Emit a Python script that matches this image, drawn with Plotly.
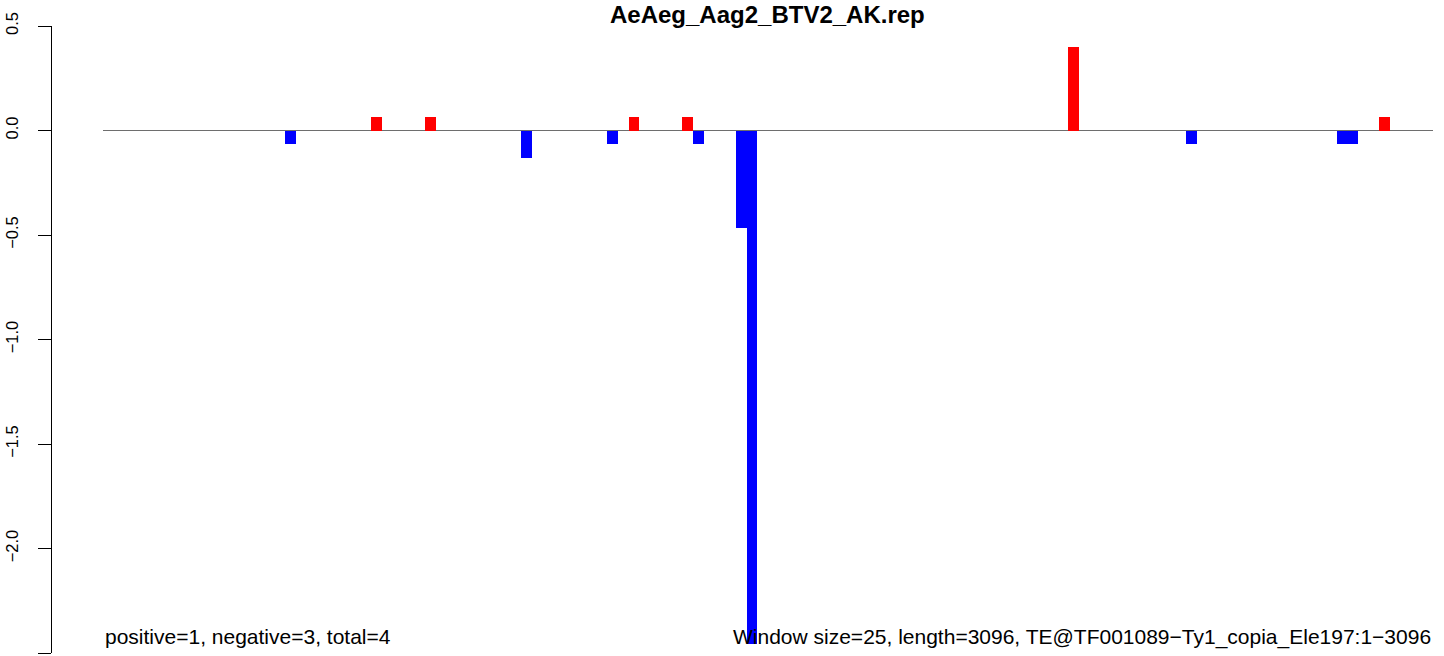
import plotly.graph_objects as go

# window index (25 bp windows) and normalised counts
windows = [17, 25, 30, 39, 47, 49, 54, 55, 59, 60, 90, 101, 115, 116, 119]
values = [-0.0667, 0.0667, 0.0667, -0.1333, -0.0667, 0.0667, 0.0667, -0.0667,
          -0.4667, -2.455, 0.4, -0.0667, -0.0667, -0.0667, 0.0667]
n_windows = 124

title = "AeAeg_Aag2_BTV2_AK.rep"
left_note = "positive=1, negative=3, total=4"
right_note = "Window size=25, length=3096, TE@TF001089\u2212Ty1_copia_Ele197:1\u22123096"

colors = ["#ff0000" if v > 0 else "#0000ff" for v in values]

fig = go.Figure()
fig.add_trace(go.Bar(x=[w + 0.5 for w in windows], y=values, width=1,
                     marker=dict(color=colors, line=dict(width=0))))

font = "Liberation Sans, Arial, Helvetica, sans-serif"
plot_h = 653.3 - 25.5

fig.update_layout(
    width=1444, height=656,
    margin=dict(l=51, r=11, t=25.5, b=2.7, pad=0),
    plot_bgcolor="white", paper_bgcolor="white",
    showlegend=False, bargap=0,
    font=dict(family=font, size=16.5, color="black"),
)
fig.update_xaxes(range=[0, n_windows], domain=[0.0376, 1], visible=False)
fig.update_yaxes(range=[-2.5, 0.5], anchor="free", position=0,
                 tick0=0, dtick=0.5, tickformat=".1f", tickangle=-90,
                 ticks="outside", ticklen=13, tickwidth=1.3, tickcolor="black",
                 showline=True, linecolor="black", linewidth=1.3,
                 showgrid=False, zeroline=True, zerolinecolor="#6e6e6e",
                 zerolinewidth=1, ticklabelstandoff=13,
                 tickfont=dict(size=16.5, color="black"))

fig.add_annotation(text="<b>" + title + "</b>", x=n_windows / 2, xref="x",
                   y=1 + (25.5 - 13.5) / plot_h, yref="paper", yanchor="middle",
                   showarrow=False, font=dict(size=24, color="black"))
fig.add_annotation(text=left_note, x=0, xref="x", xanchor="left",
                   y=(653.3 - 637) / plot_h, yref="paper", yanchor="middle",
                   showarrow=False, font=dict(size=21, color="black"))
fig.add_annotation(text=right_note, x=n_windows, xref="x", xanchor="right",
                   y=(653.3 - 637) / plot_h, yref="paper", yanchor="middle",
                   showarrow=False, font=dict(size=21, color="black"))

fig.write_html("out.html", config={"displayModeBar": False},
               post_script="document.body.style.margin='0';")
